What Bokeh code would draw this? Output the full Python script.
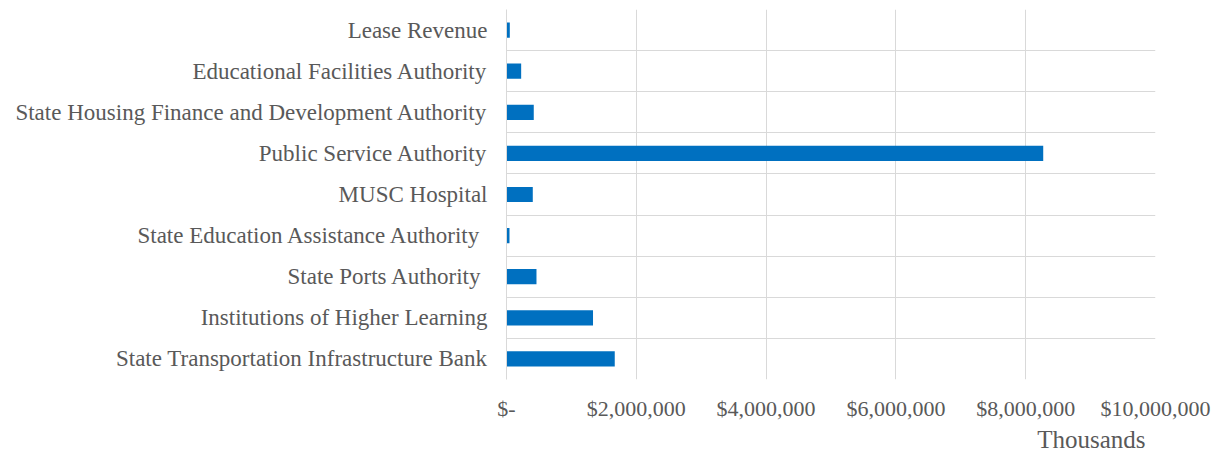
import numpy as np
from bokeh.plotting import figure
from bokeh.models import Range1d, FixedTicker, Title
from bokeh.embed import file_html
from bokeh.resources import INLINE

# Data (bottom to top), values in thousands of dollars
categories = [
    "State Transportation Infrastructure Bank",
    "Institutions of Higher Learning",
    "State Ports Authority ",
    "State Education Assistance Authority ",
    "MUSC Hospital",
    "Public Service Authority",
    "State Housing Finance and Development Authority",
    "Educational Facilities Authority",
    "Lease Revenue",
]
values = [1668000, 1333000, 462000, 46000, 405000, 8270000, 420000, 226000, 51000]

tick_values = [0, 2000000, 4000000, 6000000, 8000000, 10000000]
tick_labels = ["$-", "$2,000,000", "$4,000,000", "$6,000,000", "$8,000,000", "$10,000,000"]
axis_title = "Thousands"

FONT = "Liberation Serif"
TEXT = "#595959"
GRID = "#d9d9d9"
BAR = "#0070C0"

n = len(categories)
ypos = np.arange(n) + 0.5

p = figure(width=1215, height=456, output_backend="svg", toolbar_location=None,
           x_range=Range1d(0, 10000000), y_range=Range1d(0, n),
           min_border_left=506, min_border_right=60, min_border_top=9, min_border_bottom=77)

p.hbar(y=ypos, right=values, left=0, height=0.37, color=BAR, line_color=None)

# x axis
p.xaxis.ticker = FixedTicker(ticks=tick_values)
p.xaxis.major_label_overrides = {v: l for v, l in zip(tick_values, tick_labels)}
p.xaxis.axis_line_color = None
p.xaxis.major_tick_line_color = None
p.xaxis.minor_tick_line_color = None
p.xaxis.major_label_text_font = FONT
p.xaxis.major_label_text_font_size = "22px"
p.xaxis.major_label_text_color = TEXT
p.xaxis.major_label_standoff = 10

# y axis
p.yaxis.ticker = FixedTicker(ticks=list(ypos))
p.yaxis.major_label_overrides = {float(y): c for y, c in zip(ypos, categories)}
p.yaxis.axis_line_color = GRID
p.yaxis.major_tick_line_color = None
p.yaxis.minor_tick_line_color = None
p.yaxis.major_label_text_font = FONT
p.yaxis.major_label_text_font_size = "23px"
p.yaxis.major_label_text_color = TEXT
p.yaxis.major_label_standoff = 13

# grids
p.xgrid.ticker = FixedTicker(ticks=tick_values)
p.xgrid.grid_line_color = GRID
p.ygrid.ticker = FixedTicker(ticks=list(range(n + 1)))
p.ygrid.grid_line_color = GRID
p.outline_line_color = None

p.add_layout(Title(text=axis_title, align="right", offset=10, standoff=0,
                   text_font=FONT, text_font_size="25px", text_color=TEXT,
                   text_font_style="normal"), "below")

open("out.html", "w").write(file_html(p, INLINE))
